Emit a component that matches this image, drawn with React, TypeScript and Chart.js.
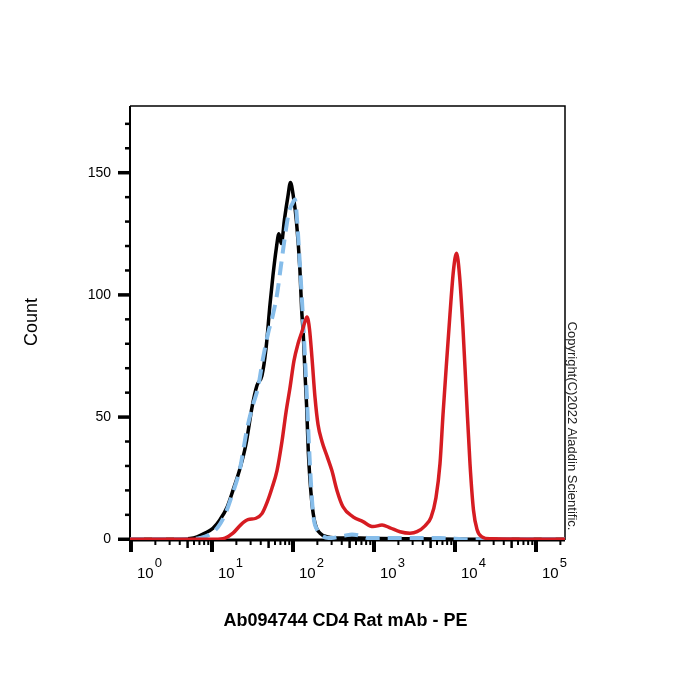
import { useEffect, useRef } from "react";
import { Chart, registerables } from "chart.js";

Chart.register(...registerables);

// Axis ranges: x is log10(PE intensity), y is event count
const xMin = -0.012;
const xMax = 5.358;
const yMin = -0.3;
const yMax = 177.3;

const decades = [0, 1, 2, 3, 4, 5];
const countTicks = [0, 10, 20, 30, 40, 50, 60, 70, 80, 90, 100, 110, 120, 130, 140, 150, 160, 170];
const countLabels = [0, 50, 100, 150];

const xTitle = "Ab094744 CD4 Rat mAb - PE";
const yTitle = "Count";
const copyright = "Copyright(C)2022 Aladdin Scientific.";

// Unstained / isotype control (black, solid)
const blackLog = [-0.012, 0.6, 0.73, 0.815, 0.914, 1.012, 1.099, 1.185, 1.259, 1.346, 1.42, 1.494, 1.556, 1.617, 1.667, 1.716, 1.753, 1.794, 1.826, 1.856, 1.895, 1.936, 1.969, 2.006, 2.043, 2.086, 2.107, 2.127, 2.148, 2.169, 2.189, 2.23, 2.272, 2.333, 2.432, 2.58, 2.827, 3.074, 3.568, 4.2, 5.358];
const blackCount = [0, 0, 0.3, 1, 2.5, 4.5, 8, 13, 20, 29, 39, 54, 63, 67, 78, 96, 108, 119, 125, 121, 131, 140, 146, 140, 130, 110, 94, 84, 68, 54, 36, 16, 6.5, 2.5, 1, 0.5, 0.5, 0.3, 0.2, 0, 0];

// Second control (light blue, dashed)
const blueLog = [-0.012, 0.73, 0.852, 0.975, 1.074, 1.16, 1.247, 1.346, 1.432, 1.506, 1.568, 1.63, 1.691, 1.753, 1.802, 1.852, 1.901, 1.951, 1.988, 2.025, 2.043, 2.086, 2.127, 2.169, 2.21, 2.25, 2.296, 2.358, 2.457, 2.642, 2.728, 2.827, 2.926, 3.321, 3.815, 4.185, 5.358];
const blueCount = [0, 0, 0.5, 2, 5, 10, 18, 29, 45, 55, 62, 74, 84, 92, 100, 112, 124, 134, 137, 139, 134, 112, 88, 60, 30, 10, 4, 1.5, 0.5, 1.5, 2, 1.5, 0.5, 0.5, 0.5, 0, 0];

// CD4 stained sample (red, solid)
const redLog = [-0.012, 1.037, 1.16, 1.259, 1.358, 1.444, 1.543, 1.617, 1.679, 1.741, 1.802, 1.864, 1.914, 1.963, 2.012, 2.062, 2.111, 2.148, 2.173, 2.204, 2.235, 2.272, 2.309, 2.358, 2.42, 2.481, 2.543, 2.617, 2.741, 2.864, 2.988, 3.099, 3.198, 3.321, 3.444, 3.531, 3.63, 3.704, 3.765, 3.815, 3.852, 3.895, 3.938, 3.981, 4.019, 4.056, 4.099, 4.142, 4.185, 4.228, 4.272, 4.333, 4.432, 5.358];
const redCount = [0, 0, 0.5, 2.5, 6, 8, 8.6, 10.5, 15, 21, 28, 40, 52, 62, 73, 80, 85, 89, 91, 86, 74, 58, 47, 40, 34, 28, 20, 13.3, 9.2, 7.2, 5.2, 5.8, 4.7, 3.1, 2.5, 3.1, 5.5, 9, 17, 31, 51, 72, 92, 110, 117, 108, 86, 58, 31, 12, 4, 1, 0.2, 0];

const FONT = "'Liberation Sans', Arial, Helvetica, sans-serif";

function toPoints(xs: number[], ys: number[]) {
  return xs.map((x, i) => ({ x, y: ys[i] }));
}

// All log-decade tick positions (1..9 x 10^n) inside the x range
function logTickValues(): number[] {
  const out: number[] = [];
  for (const d of decades) {
    for (let k = 1; k <= 9; k++) {
      const v = d + Math.log10(k);
      if (v >= xMin - 1e-9 && v <= xMax) out.push(v);
    }
  }
  return out;
}

const axesPlugin = {
  id: "flowAxes",
  beforeDatasetsDraw(chart: any) {
    const { ctx, chartArea: a, scales } = chart;
    const xs = scales.x;
    const ys = scales.y;
    ctx.save();
    ctx.strokeStyle = "#000";
    ctx.lineCap = "butt";

    // frame: top and right
    ctx.lineWidth = 1.5;
    ctx.beginPath();
    ctx.moveTo(a.left, a.top);
    ctx.lineTo(a.right, a.top);
    ctx.lineTo(a.right, a.bottom);
    ctx.stroke();

    // left axis
    ctx.lineWidth = 2;
    ctx.beginPath();
    ctx.moveTo(a.left, a.top);
    ctx.lineTo(a.left, a.bottom + 1);
    ctx.stroke();

    // bottom axis
    ctx.lineWidth = 3;
    ctx.beginPath();
    ctx.moveTo(a.left - 1, a.bottom);
    ctx.lineTo(a.right, a.bottom);
    ctx.stroke();

    // x tick marks
    for (const t of xs.ticks) {
      const v = t.value;
      const frac = v - Math.floor(v + 1e-9);
      const k = Math.round(Math.pow(10, frac));
      const px = xs.getPixelForValue(v);
      let len = 5;
      let w = 2;
      if (k === 1) {
        len = 12;
        w = 4;
      } else if (k === 5) {
        len = 8;
        w = 2.5;
      }
      ctx.lineWidth = w;
      ctx.beginPath();
      ctx.moveTo(px, a.bottom);
      ctx.lineTo(px, a.bottom + len);
      ctx.stroke();
    }

    // y tick marks
    for (const t of ys.ticks) {
      const v = t.value;
      const py = ys.getPixelForValue(v);
      const major = countLabels.includes(v);
      ctx.lineWidth = major ? 3.5 : 2.5;
      ctx.beginPath();
      ctx.moveTo(a.left, py);
      ctx.lineTo(a.left - (major ? 12 : 5), py);
      ctx.stroke();
    }
    ctx.restore();
  },
  afterDraw(chart: any) {
    const { ctx, chartArea: a, scales } = chart;
    const xs = scales.x;
    ctx.save();
    ctx.fillStyle = "#000";

    // decade labels 10^n
    for (const d of decades) {
      const px = xs.getPixelForValue(d);
      ctx.font = `15px ${FONT}`;
      ctx.textAlign = "left";
      ctx.textBaseline = "alphabetic";
      const baseX = px + 6;
      ctx.fillText("10", baseX, 578);
      const w = ctx.measureText("10").width;
      ctx.font = `13px ${FONT}`;
      ctx.fillText(String(d), baseX + w + 1, 567);
    }

    // x title
    ctx.font = `bold 18px ${FONT}`;
    ctx.textAlign = "center";
    ctx.textBaseline = "middle";
    ctx.fillText(xTitle, (a.left + a.right) / 2 - 2, 621);

    // y title
    ctx.save();
    ctx.translate(32, 322);
    ctx.rotate(-Math.PI / 2);
    ctx.font = `18px ${FONT}`;
    ctx.textAlign = "center";
    ctx.textBaseline = "middle";
    ctx.fillText(yTitle, 0, 0);
    ctx.restore();

    // copyright note along the right border
    ctx.save();
    ctx.translate(572, 426);
    ctx.rotate(Math.PI / 2);
    ctx.font = `13px ${FONT}`;
    ctx.fillStyle = "#222";
    ctx.textAlign = "center";
    ctx.textBaseline = "middle";
    ctx.fillText(copyright, 0, 0);
    ctx.restore();

    ctx.restore();
  },
};

export default function App() {
  const canvasRef = useRef<HTMLCanvasElement | null>(null);

  useEffect(() => {
    const canvas = canvasRef.current;
    if (!canvas) return;
    const chart = new Chart(canvas, {
      type: "line",
      data: {
        datasets: [
          {
            label: "CD4",
            data: toPoints(redLog, redCount),
            borderColor: "#d61c22",
            borderWidth: 3.5,
            pointRadius: 0,
            fill: false,
            cubicInterpolationMode: "monotone",
          },
          {
            label: "Control 2",
            data: toPoints(blueLog, blueCount),
            borderColor: "#86bdea",
            borderWidth: 4,
            borderDash: [14, 8],
            pointRadius: 0,
            fill: false,
            cubicInterpolationMode: "monotone",
          },
          {
            label: "Control 1",
            data: toPoints(blackLog, blackCount),
            borderColor: "#000000",
            borderWidth: 3.5,
            pointRadius: 0,
            fill: false,
            cubicInterpolationMode: "monotone",
          },
        ],
      },
      options: {
        animation: false,
        responsive: false,
        maintainAspectRatio: false,
        layout: { padding: { left: 0, top: 106, right: 135, bottom: 0 } },
        plugins: {
          legend: { display: false },
          tooltip: { enabled: false },
          title: { display: false },
        },
        scales: {
          x: {
            type: "linear",
            min: xMin,
            max: xMax,
            afterBuildTicks: (s: any) => {
              s.ticks = logTickValues().map((v) => ({ value: v }));
            },
            afterFit: (s: any) => {
              s.height = 160;
            },
            ticks: { display: false },
            grid: { display: false, drawTicks: false },
            border: { display: false },
          },
          y: {
            type: "linear",
            min: yMin,
            max: yMax,
            afterBuildTicks: (s: any) => {
              s.ticks = countTicks.map((v) => ({ value: v }));
            },
            afterFit: (s: any) => {
              s.width = 130;
            },
            ticks: {
              padding: 19,
              color: "#000",
              font: { family: FONT, size: 14 },
              autoSkip: false,
              callback: (v: any) => (countLabels.includes(Number(v)) ? String(v) : ""),
            },
            grid: { display: false, drawTicks: false },
            border: { display: false },
          },
        },
      },
      plugins: [axesPlugin],
    });
    return () => chart.destroy();
  }, []);

  return (
    <div style={{ position: "fixed", left: 0, top: 0, width: 700, height: 700, background: "#fff" }}>
      <canvas ref={canvasRef} width={700} height={700} style={{ width: 700, height: 700, display: "block" }} />
    </div>
  );
}
